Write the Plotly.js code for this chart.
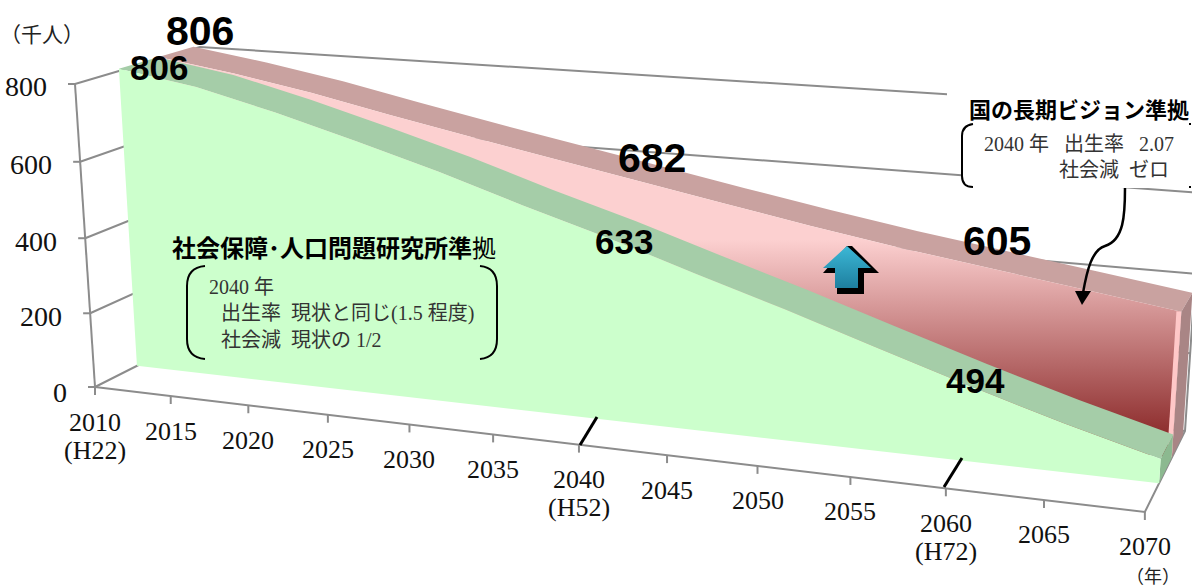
<!DOCTYPE html>
<html>
<head>
<meta charset="utf-8">
<script src="https://cdn.plot.ly/plotly-3.0.1.min.js"></script>
<style>html,body{margin:0;padding:0;background:#fff}#c{width:1192px;height:587px}</style>
</head>
<body>
<div id="c"></div>
<script>
// ---- data ----
const years = [2010,2015,2020,2025,2030,2035,2040,2045,2050,2055,2060,2065,2070];
const yearSub = {2010:'(H22)',2040:'(H52)',2060:'(H72)'};
// plotted height of each series against the printed axis
const ipssHeights   = [806,772,720,662,600,532,468,398,330,258,187,120,59];
const visionHeights = [806,775,738,694,652,612,572,532,493,457,425,393,361];
const yTicks = [0,200,400,600,800];

// ---- 3-D area chart camera: (year index, value, depth) -> picture axes ----
function P(t,v,d){
  const u=v/800, W=1-0.01207*t-0.03546*u+0.0875*d;
  return [(95+73.67*t-22.66*u+138*d)/W,(387+4.236*t-306*u-31.5*d)/W];
}
const D={greenFront:0.333,greenBack:0.644,redFront:0.65,redBack:0.945,wall:1};
const last=years.length-1;

const traces=[];
function poly(pts,color,extra){
  traces.push(Object.assign({type:'scatter',mode:'none',x:pts.map(p=>p[0]),y:pts.map(p=>p[1]),
    fill:'toself',fillcolor:color,hoverinfo:'skip',showlegend:false},extra||{}));
}
function line(pts,color,w){
  traces.push({type:'scatter',mode:'lines',x:pts.map(p=>p[0]),y:pts.map(p=>p[1]),
    line:{color:color||'#8c8c8c',width:w||2},hoverinfo:'skip',showlegend:false});
}
// walls, floor, axes
yTicks.forEach(v=>{
  line([P(0,v,0),P(0,v,1),P(last,v,1)]);
  const a=P(0,v,0); line([[a[0]-7,a[1]],a]);
});
line([P(0,0,0),P(0,800,0)]);
line([P(0,0,0),P(last,0,0),P(last,0,1),P(last,800,1)]);
years.forEach((y,i)=>{const a=P(i,0,0); line([a,[a[0],a[1]+8]]);});

function ridge(h,d0,d1){
  const f=h.map((v,i)=>P(i,v,d0)), b=h.map((v,i)=>P(i,v,d1)).reverse();
  return f.concat(b);
}
function face(h,d){
  return h.map((v,i)=>P(i,v,d)).concat([P(last,0,d),P(0,0,d)]);
}
// rear series
poly(ridge(visionHeights,D.redFront,D.redBack),'#c9a2a0');
poly(face(visionHeights,D.redFront),'#e0a0a0',{fillgradient:{type:'vertical',start:240,stop:433,
  colorscale:[[0,'#fcd0d0'],[1,'#8e2e2e']]}});
const rv=visionHeights[last];
poly([P(last,rv,D.redFront),P(last,rv,D.redBack),P(last,0,D.redBack),P(last,0,D.redFront)],'#a98585');
poly([P(last-0.05,rv,D.redFront),P(last,rv,D.redFront),P(last,0,D.redFront),P(last-0.05,0,D.redFront)],'#ffc8c8');
// front series
poly(ridge(ipssHeights,D.greenFront,D.greenBack),'#a5cda8');
const gv=ipssHeights[last];
poly([P(last,gv,D.greenFront),P(last,gv,D.greenBack),P(last,0,D.greenBack),P(last,0,D.greenFront)],'#8cb990');
poly(face(ipssHeights,D.greenFront),'#ccffcc');
// up arrow
const arrowShadowX=[852,879,864,864,837,837,823,847], arrowShadowY=[246,273,273,294,294,273,273,246];
const arrowX=[847,871,858,858,835,835,823], arrowY=[246,268,268,288,288,268,268];
traces.push({type:'scatter',mode:'none',x:arrowShadowX,y:arrowShadowY,fill:'toself',fillcolor:'#000',hoverinfo:'skip',showlegend:false});
traces.push({type:'scatter',mode:'none',x:arrowX,y:arrowY,fill:'toself',fillcolor:'#2a9abb',hoverinfo:'skip',showlegend:false,
  fillgradient:{type:'vertical',start:246,stop:288,colorscale:[[0,'#3cb8d6'],[1,'#1e7f9f']]}});

// ---- text ----
const SERIF='"Liberation Serif","Noto Sans CJK JP",serif';
const GOTH='"Noto Sans CJK JP",sans-serif';
const ARIAL='"Liberation Sans",Arial,sans-serif';
const NB='\u00a0';
const ann=[];
function T(x,y,text,size,family,color,anchor){
  ann.push({xref:'x',yref:'y',x,y,text,showarrow:false,xanchor:anchor||'center',yanchor:'middle',
    font:{size,family,color:color||'#111'},align:anchor||'center'});
}
years.forEach((yr,i)=>{
  const a=P(i,0,0);
  T(a[0],a[1]+35,String(yr),26,SERIF);
  if(yearSub[yr]) T(a[0],a[1]+63,yearSub[yr],26,SERIF);
});
yTicks.forEach(v=>{const a=P(0,v,0); T(a[0]-26,a[1]+(v===0?5:3),String(v),28,SERIF,'#111','right');});
T(42,33,'（千人）',21,GOTH,'#222');
T(1153,575,'（年）',18,GOTH,'#222');
// data labels
T(200,31,'<b>806</b>',41,ARIAL,'#000');
T(159,67,'<b>806</b>',35,ARIAL,'#000');
T(652,158,'<b>682</b>',41,ARIAL,'#000');
T(997,241,'<b>605</b>',41,ARIAL,'#000');
T(624,241,'<b>633</b>',35,ARIAL,'#000');
T(975,380,'<b>494</b>',35,ARIAL,'#000');
// callouts
T(334,246,'<b>社会保障･人口問題研究所準</b>拠',24,GOTH,'#000');
T(207,287,'2040 年',20,SERIF,'#333','left');
T(219,313,'出生率'+NB+NB+'現状と同じ(1.5 程度)',20,SERIF,'#333','left');
T(219,340,'社会減'+NB+NB+'現状の 1/2',20,SERIF,'#333','left');
T(1079,108,'<b>国の長期ビジョン準拠</b>',22,GOTH,'#000');
T(982,144,'2040 年'+NB+NB+NB+'出生率'+NB+NB+NB+'2.07',20,SERIF,'#333','left');
T(1057,170,'社会減'+NB+NB+'ゼロ',20,SERIF,'#333','left');

const stroke={color:'#000',width:2};
const shapes=[
 {type:'rect',xref:'x',yref:'y',x0:947,x1:1192,y0:86,y1:120,fillcolor:'#fff',line:{width:0}},
 {type:'rect',xref:'x',yref:'y',x0:962,x1:1192,y0:120,y1:188,fillcolor:'#fff',line:{width:0}},
 {type:'path',xref:'x',yref:'y',path:'M205,266 C193,267 187,274 187,286 L187,339 C187,351 193,358 205,359',line:stroke},
 {type:'path',xref:'x',yref:'y',path:'M480,266 C491,267 497,274 497,286 L497,339 C497,351 491,358 480,359',line:stroke},
 {type:'path',xref:'x',yref:'y',path:'M973,124 C966,125 962,129 962,136 L962,176 C962,183 966,187 973,187',line:stroke},
 {type:'path',xref:'x',yref:'y',path:'M1189,124 L1191,124 M1189,187 L1191,187',line:stroke},
 {type:'path',xref:'x',yref:'y',path:'M1125,188 C1125,215 1124,240 1105,246 C1092,250 1087,270 1083,293',line:{color:'#000',width:2.5}},
 {type:'path',xref:'x',yref:'y',path:'M1075,291 L1091,291 L1082,305 Z',fillcolor:'#000',line:{width:0}},
 {type:'line',xref:'x',yref:'y',x0:597,y0:417,x1:580,y1:445,line:{color:'#000',width:3}},
 {type:'line',xref:'x',yref:'y',x0:962,y0:458,x1:944,y1:487,line:{color:'#000',width:3}}
];

Plotly.newPlot('c',traces,{
  width:1192,height:587,margin:{l:0,r:0,t:0,b:0},
  paper_bgcolor:'#fff',plot_bgcolor:'#fff',showlegend:false,
  xaxis:{range:[0,1192],visible:false,fixedrange:true},
  yaxis:{range:[587,0],visible:false,fixedrange:true},
  annotations:ann,shapes:shapes
},{displayModeBar:false,staticPlot:true});
</script>
</body>
</html>
